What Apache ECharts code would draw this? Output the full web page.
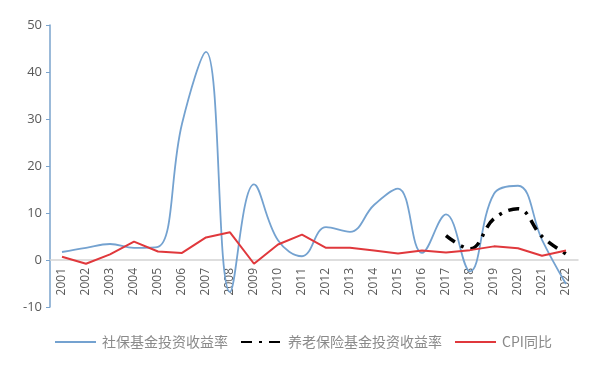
<!DOCTYPE html>
<html><head><meta charset="utf-8">
<script src="https://cdn.jsdelivr.net/npm/echarts@6/dist/echarts.min.js"></script>
<style>html,body{margin:0;padding:0;background:#fff}#c{width:599px;height:372px}</style>
</head><body><div id="c"></div>
<script>
const years = ['2001','2002','2003','2004','2005','2006','2007','2008','2009','2010','2011','2012','2013','2014','2015','2016','2017','2018','2019','2020','2021','2022'];
const socialFund = [1.7, 2.6, 3.4, 2.6, 2.8, 29.0, 44.3, -6.8, 16.1, 4.2, 0.8, 7.0, 6.0, 11.7, 15.2, 1.5, 9.7, -2.4, 14.1, 15.8, 4.3, -5.1];
const pensionFund = [null, null, null, null, null, null, null, null, null, null, null, null, null, null, null, null, 5.2, 2.4, 8.8, 10.9, 5.0, 1.3];
const cpi = [0.7, -0.8, 1.2, 3.9, 1.8, 1.5, 4.8, 5.9, -0.8, 3.3, 5.4, 2.6, 2.6, 2.0, 1.4, 2.0, 1.6, 2.1, 2.9, 2.5, 0.9, 2.0];
const names = ['社保基金投资收益率', '养老保险基金投资收益率', 'CPI同比'];

const chart = echarts.init(document.getElementById('c'));
chart.setOption({
  backgroundColor: '#fff',
  animation: false,
  grid: { left: 50, right: 21, top: 25, bottom: 65 },
  legend: {
    top: 330, left: 49,
    itemWidth: 41, itemHeight: 14, itemGap: 12,
    itemStyle: { opacity: 0 },
    textStyle: { color: '#8a8a8a', fontSize: 14, fontFamily: 'Noto Sans CJK SC', padding: [0, 0, 0, 1] },
    data: names
  },
  xAxis: {
    type: 'category', data: years, boundaryGap: true,
    position: 'bottom', offset: -47,
    axisLine: { onZero: false, lineStyle: { color: '#d4d4d4', width: 1.5 } },
    axisTick: { show: false },
    axisLabel: { rotate: 90, color: '#5a5a5a', fontSize: 12, margin: 8, interval: 0, fontFamily: 'Open Sans' }
  },
  yAxis: {
    type: 'value', min: -10, max: 50, interval: 10,
    axisLine: { show: true, lineStyle: { color: '#7aa3cc', width: 1.5 } },
    axisTick: { show: true, length: 4, lineStyle: { color: '#7aa3cc' } },
    splitLine: { show: false },
    axisLabel: { color: '#5a5a5a', fontSize: 13, margin: 8, fontFamily: 'Open Sans' }
  },
  series: [
    { name: names[0], type: 'line', data: socialFund, smooth: 0.4, symbol: 'none',
      lineStyle: { color: '#74a2d0', width: 1.8 }, itemStyle: { color: '#74a2d0' } },
    { name: names[1], type: 'line', data: pensionFund, smooth: 0.4, symbol: 'none',
      lineStyle: { color: '#000', width: 3.5, type: [11, 7, 3, 7] }, itemStyle: { color: '#000' } },
    { name: names[2], type: 'line', data: cpi, smooth: false, symbol: 'none',
      lineStyle: { color: '#e0383c', width: 2 }, itemStyle: { color: '#e0383c' } }
  ]
});
</script></body></html>
